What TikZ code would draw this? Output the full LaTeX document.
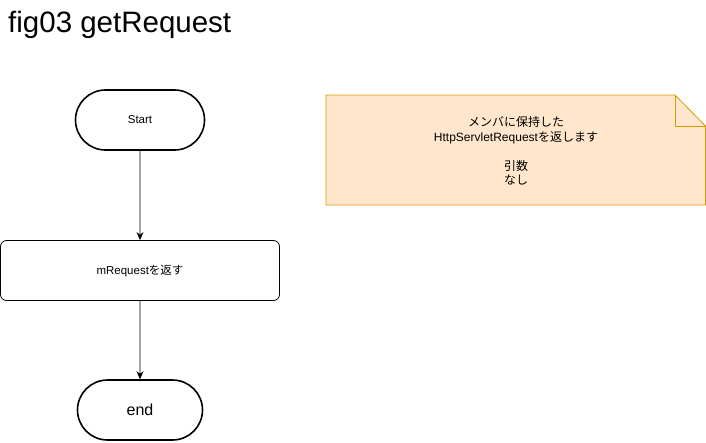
\documentclass[tikz,border=0pt]{standalone}
\usepackage{fontspec}
\setmainfont{Liberation Sans}
\newfontfamily\jpfont{Noto Sans CJK JP}
\usetikzlibrary{calc}
\usetikzlibrary{positioning}
\usetikzlibrary{shapes.misc}
\usetikzlibrary{arrows.meta}

\definecolor{notefill}{HTML}{FFE6CC}
\definecolor{notedraw}{HTML}{D79B00}

\begin{document}
\begin{tikzpicture}[
		x=1pt, y=-1pt,
		every node/.append style={font=\fontsize{11.5}{14.5}\selectfont},
		terminal/.style={
			draw=black,
			line width=1.6pt,
			rounded rectangle,
			minimum width=129pt,
			minimum height=60pt,
			inner sep=0pt},
		process/.style={
			draw=black,
			line width=0.8pt,
			rounded corners=6pt,
			rectangle,
			minimum width=279pt,
			minimum height=60pt},
		flow/.style={
			-{Stealth[length=8pt,width=7pt]},
			line width=0.8pt},
		note/.style={
			fill=notefill,
			draw=notedraw,
			line width=0.8pt},
		]

		\useasboundingbox (0,0) rectangle (706,442);

		%Title
		\node (title)[anchor=base west, inner sep=0pt, font=\fontsize{29.5}{34}\selectfont] at (8,32) {fig03 getRequest};

		%Flow
		\node (start)[terminal] at (140,120) {Start};
		\node (request)[process] at (140,270.5) {mRequest{\jpfont を返す}};
		\node (stop)[terminal, minimum width=125pt, font=\fontsize{16}{19}\selectfont] at (140,410) {end};

		\draw[flow] (start) -- (request);
		\draw[flow] (request) -- (stop);

		%Note
		\draw[note] (326,95) -- (675,95) -- (705.5,126) -- (705.5,205) -- (326,205) -- cycle;
		\draw[note, fill=none] (675,95) -- (675,126) -- (705.5,126);
		\node (note_text)[align=center, font=\fontsize{12}{14.5}\selectfont] at (516,151) {{\jpfont メンバに保持した}\\HttpServletRequest{\jpfont を返します}\\[14.5pt]{\jpfont 引数}\\{\jpfont なし}};

	\end{tikzpicture}
\end{document}
